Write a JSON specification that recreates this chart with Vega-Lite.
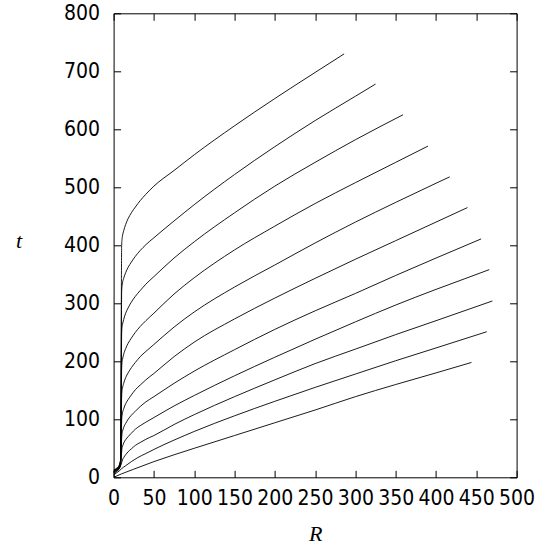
{
  "$schema": "https://vega.github.io/schema/vega-lite/v6.json",
  "width": 403,
  "height": 464,
  "autosize": {"type": "none"},
  "padding": {"left": 113.6, "top": 13.3, "right": 28.4, "bottom": 67.7},
  "background": "white",
  "config": {
    "view": {"stroke": "black", "strokeWidth": 1},
    "axis": {
      "grid": false,
      "domain": false,
      "ticks": true,
      "tickSize": -7,
      "tickColor": "black",
      "tickWidth": 1,
      "labelFont": "DejaVu Sans Condensed",
      "labelFontSize": 21,
      "labelColor": "black",
      "labelOverlap": false,
      "labelBound": false,
      "labelFlush": false,
      "titleFont": "Liberation Serif",
      "titleFontStyle": "italic",
      "titleFontWeight": "normal",
      "titleFontSize": 22,
      "titleColor": "black"
    }
  },
  "data": {
    "values": [
      {"c":1,"R":0,"t":13},{"c":1,"R":4,"t":16},{"c":1,"R":7,"t":21},{"c":1,"R":8.7,"t":31},{"c":1,"R":9.3,"t":200},{"c":1,"R":10,"t":400},{"c":1,"R":10.5,"t":411},{"c":1,"R":11,"t":416},{"c":1,"R":12.5,"t":425},{"c":1,"R":15,"t":436},{"c":1,"R":18,"t":446},{"c":1,"R":22,"t":456},{"c":1,"R":27,"t":466},{"c":1,"R":33,"t":477},{"c":1,"R":40,"t":488},{"c":1,"R":50,"t":502},{"c":1,"R":75,"t":529},{"c":1,"R":100,"t":556},{"c":1,"R":150,"t":606},{"c":1,"R":200,"t":653},{"c":1,"R":250,"t":698},{"c":1,"R":286,"t":730},
      {"c":2,"R":0,"t":12},{"c":2,"R":4,"t":15},{"c":2,"R":7,"t":20},{"c":2,"R":8.7,"t":30},{"c":2,"R":9.3,"t":160},{"c":2,"R":10,"t":320},{"c":2,"R":10.5,"t":330},{"c":2,"R":11,"t":335},{"c":2,"R":12.5,"t":343},{"c":2,"R":15,"t":353},{"c":2,"R":18,"t":362},{"c":2,"R":22,"t":371},{"c":2,"R":27,"t":381},{"c":2,"R":33,"t":391},{"c":2,"R":40,"t":401},{"c":2,"R":50,"t":413},{"c":2,"R":75,"t":442},{"c":2,"R":100,"t":470},{"c":2,"R":150,"t":522},{"c":2,"R":200,"t":570},{"c":2,"R":250,"t":615},{"c":2,"R":300,"t":657},{"c":2,"R":325,"t":678},
      {"c":3,"R":0,"t":11},{"c":3,"R":4,"t":14},{"c":3,"R":7,"t":19},{"c":3,"R":8.7,"t":29},{"c":3,"R":9.3,"t":124},{"c":3,"R":10,"t":248},{"c":3,"R":10.5,"t":259},{"c":3,"R":11,"t":263},{"c":3,"R":12.5,"t":272},{"c":3,"R":15,"t":283},{"c":3,"R":18,"t":292},{"c":3,"R":22,"t":302},{"c":3,"R":27,"t":312},{"c":3,"R":33,"t":322},{"c":3,"R":40,"t":333},{"c":3,"R":50,"t":346},{"c":3,"R":75,"t":378},{"c":3,"R":100,"t":406},{"c":3,"R":150,"t":456},{"c":3,"R":200,"t":502},{"c":3,"R":250,"t":543},{"c":3,"R":300,"t":582},{"c":3,"R":359,"t":625},
      {"c":4,"R":0,"t":11},{"c":4,"R":4,"t":14},{"c":4,"R":7,"t":19},{"c":4,"R":8.7,"t":28},{"c":4,"R":9.3,"t":94},{"c":4,"R":10,"t":188},{"c":4,"R":10.5,"t":199},{"c":4,"R":11,"t":203},{"c":4,"R":12.5,"t":212},{"c":4,"R":15,"t":222},{"c":4,"R":18,"t":231},{"c":4,"R":22,"t":240},{"c":4,"R":27,"t":250},{"c":4,"R":33,"t":260},{"c":4,"R":40,"t":270},{"c":4,"R":50,"t":283},{"c":4,"R":75,"t":316},{"c":4,"R":100,"t":344},{"c":4,"R":150,"t":392},{"c":4,"R":200,"t":433},{"c":4,"R":250,"t":472},{"c":4,"R":300,"t":508},{"c":4,"R":350,"t":543},{"c":4,"R":390,"t":571},
      {"c":5,"R":0,"t":10},{"c":5,"R":4,"t":13},{"c":5,"R":7,"t":18},{"c":5,"R":8.7,"t":27},{"c":5,"R":9.3,"t":70},{"c":5,"R":10,"t":140},{"c":5,"R":10.5,"t":150},{"c":5,"R":11,"t":154},{"c":5,"R":12.5,"t":162},{"c":5,"R":15,"t":172},{"c":5,"R":18,"t":180},{"c":5,"R":22,"t":189},{"c":5,"R":27,"t":198},{"c":5,"R":33,"t":208},{"c":5,"R":40,"t":217},{"c":5,"R":50,"t":229},{"c":5,"R":75,"t":259},{"c":5,"R":100,"t":285},{"c":5,"R":150,"t":328},{"c":5,"R":200,"t":366},{"c":5,"R":250,"t":404},{"c":5,"R":300,"t":440},{"c":5,"R":350,"t":474},{"c":5,"R":400,"t":507},{"c":5,"R":417,"t":518},
      {"c":6,"R":0,"t":10},{"c":6,"R":4,"t":13},{"c":6,"R":7,"t":17},{"c":6,"R":8.7,"t":26},{"c":6,"R":9.3,"t":55},{"c":6,"R":10,"t":98},{"c":6,"R":10.5,"t":107},{"c":6,"R":11,"t":111},{"c":6,"R":12.5,"t":118},{"c":6,"R":15,"t":127},{"c":6,"R":18,"t":134},{"c":6,"R":22,"t":142},{"c":6,"R":27,"t":151},{"c":6,"R":33,"t":159},{"c":6,"R":40,"t":168},{"c":6,"R":50,"t":179},{"c":6,"R":75,"t":208},{"c":6,"R":100,"t":233},{"c":6,"R":150,"t":273},{"c":6,"R":200,"t":309},{"c":6,"R":250,"t":343},{"c":6,"R":300,"t":376},{"c":6,"R":350,"t":408},{"c":6,"R":400,"t":440},{"c":6,"R":439,"t":465},
      {"c":7,"R":0,"t":9},{"c":7,"R":4,"t":12},{"c":7,"R":7,"t":16},{"c":7,"R":8.7,"t":24},{"c":7,"R":9.3,"t":42},{"c":7,"R":10,"t":68},{"c":7,"R":10.5,"t":76},{"c":7,"R":11,"t":79},{"c":7,"R":12.5,"t":86},{"c":7,"R":15,"t":93},{"c":7,"R":18,"t":100},{"c":7,"R":22,"t":107},{"c":7,"R":27,"t":114},{"c":7,"R":33,"t":122},{"c":7,"R":40,"t":130},{"c":7,"R":50,"t":139},{"c":7,"R":75,"t":162},{"c":7,"R":100,"t":183},{"c":7,"R":150,"t":220},{"c":7,"R":200,"t":255},{"c":7,"R":250,"t":287},{"c":7,"R":300,"t":317},{"c":7,"R":350,"t":348},{"c":7,"R":400,"t":378},{"c":7,"R":456,"t":411},
      {"c":8,"R":0,"t":8},{"c":8,"R":4,"t":11},{"c":8,"R":7,"t":15},{"c":8,"R":8.7,"t":22},{"c":8,"R":9.3,"t":32},{"c":8,"R":10,"t":44},{"c":8,"R":10.5,"t":51},{"c":8,"R":11,"t":53},{"c":8,"R":12.5,"t":59},{"c":8,"R":15,"t":65},{"c":8,"R":18,"t":70},{"c":8,"R":22,"t":76},{"c":8,"R":27,"t":83},{"c":8,"R":33,"t":89},{"c":8,"R":40,"t":95},{"c":8,"R":50,"t":103},{"c":8,"R":75,"t":123},{"c":8,"R":100,"t":141},{"c":8,"R":150,"t":175},{"c":8,"R":200,"t":207},{"c":8,"R":250,"t":238},{"c":8,"R":300,"t":268},{"c":8,"R":350,"t":297},{"c":8,"R":400,"t":324},{"c":8,"R":435,"t":342},{"c":8,"R":466,"t":358},
      {"c":9,"R":0,"t":6},{"c":9,"R":4,"t":10},{"c":9,"R":7,"t":15},{"c":9,"R":9,"t":21},{"c":9,"R":10,"t":25},{"c":9,"R":11,"t":30},{"c":9,"R":12.5,"t":34},{"c":9,"R":15,"t":39},{"c":9,"R":18,"t":44},{"c":9,"R":22,"t":49},{"c":9,"R":27,"t":55},{"c":9,"R":33,"t":60},{"c":9,"R":40,"t":65.5},{"c":9,"R":50,"t":72},{"c":9,"R":75,"t":91},{"c":9,"R":100,"t":108},{"c":9,"R":150,"t":139},{"c":9,"R":200,"t":168},{"c":9,"R":250,"t":196},{"c":9,"R":300,"t":221},{"c":9,"R":350,"t":246},{"c":9,"R":400,"t":270},{"c":9,"R":470,"t":304},
      {"c":10,"R":0,"t":4},{"c":10,"R":4,"t":8},{"c":10,"R":7,"t":11},{"c":10,"R":10,"t":15},{"c":10,"R":15,"t":20},{"c":10,"R":22,"t":27},{"c":10,"R":30,"t":34},{"c":10,"R":40,"t":41},{"c":10,"R":50,"t":48},{"c":10,"R":100,"t":79},{"c":10,"R":150,"t":106},{"c":10,"R":200,"t":131},{"c":10,"R":250,"t":155},{"c":10,"R":300,"t":178},{"c":10,"R":350,"t":201},{"c":10,"R":400,"t":223},{"c":10,"R":463,"t":251},
      {"c":11,"R":0,"t":0},{"c":11,"R":10,"t":6},{"c":11,"R":25,"t":14},{"c":11,"R":50,"t":27},{"c":11,"R":100,"t":50},{"c":11,"R":150,"t":72},{"c":11,"R":200,"t":94},{"c":11,"R":250,"t":116},{"c":11,"R":300,"t":139},{"c":11,"R":350,"t":160},{"c":11,"R":400,"t":180},{"c":11,"R":444,"t":198}
    ]
  },
  "layer": [
    {
      "mark": {"type": "line", "stroke": "black", "strokeWidth": 0.9, "interpolate": "monotone", "clip": true},
      "encoding": {
        "x": {"field": "R", "type": "quantitative", "scale": {"domain": [0, 500], "nice": false},
              "axis": {"orient": "bottom", "values": [0,50,100,150,200,250,300,350,400,450,500], "labelPadding": 17, "title": "R", "titleY": 56, "titleBaseline": "middle"}},
        "y": {"field": "t", "type": "quantitative", "scale": {"domain": [0, 800], "nice": false},
              "axis": {"orient": "left", "values": [0,100,200,300,400,500,600,700,800], "labelPadding": 21, "title": "t", "titleAngle": 0, "titleX": -95, "titleY": 227, "titleAlign": "center", "titleBaseline": "middle"}},
        "detail": {"field": "c"}
      }
    },
    {
      "mark": {"type": "point", "opacity": 0},
      "encoding": {
        "x": {"field": "R", "type": "quantitative", "scale": {"domain": [0, 500], "nice": false},
              "axis": {"orient": "top", "values": [0,50,100,150,200,250,300,350,400,450,500], "labels": false, "title": null}},
        "y": {"field": "t", "type": "quantitative", "scale": {"domain": [0, 800], "nice": false},
              "axis": {"orient": "right", "values": [0,100,200,300,400,500,600,700,800], "labels": false, "title": null}}
      }
    }
  ],
  "resolve": {"axis": {"x": "independent", "y": "independent"}}
}
